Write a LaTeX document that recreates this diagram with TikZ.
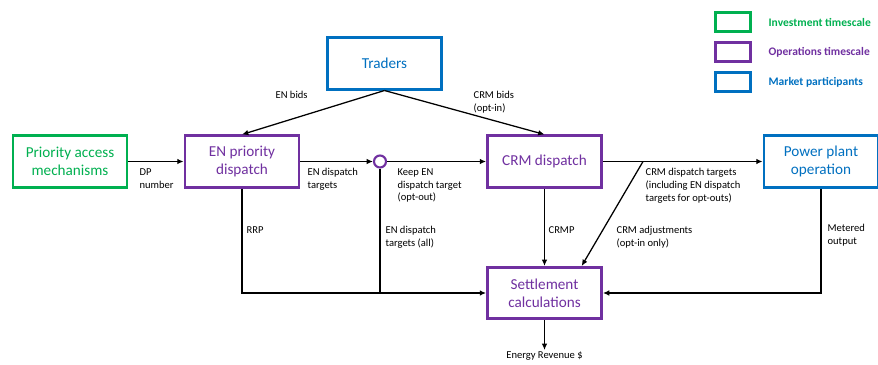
\documentclass[tikz,border=0pt]{standalone}
\usepackage{fontspec}
\setmainfont{Carlito}
\usetikzlibrary{arrows.meta}
\definecolor{invGreen}{RGB}{0,176,80}
\definecolor{opsPurple}{RGB}{112,48,160}
\definecolor{mktBlue}{RGB}{0,112,192}

\begin{document}
\begin{tikzpicture}
[-,line width=0.9pt,x=0.025cm,y=-0.025cm,%
  lineDecorate/.style={-{Latex[length=4.5pt,width=4pt]},line width=0.9pt},%
  boxDecorate/.style={draw=#1,text=#1,line width=2pt,fill=white,minimum width=2.85cm,minimum height=1.28cm,align=center,font=\fontsize{10.8}{12.8}\selectfont},%
  legendDecorate/.style={draw=#1,line width=2pt,minimum width=0.88cm,minimum height=0.46cm,inner sep=0pt},%
  labelDecorate/.style={anchor=north west,align=left,inner sep=0pt,font=\fontsize{7.5}{9}\selectfont}]
\useasboundingbox (0,0) rectangle (878,365);
%% boxes
\node[boxDecorate=invGreen] (pam) at (70,161.5) {Priority access\\mechanisms};
\node[boxDecorate=opsPurple] (enpd) at (242,161.5) {EN priority\\dispatch};
\node[boxDecorate=mktBlue] (trd) at (384.5,63.5) {Traders};
\node[boxDecorate=opsPurple] (crm) at (544.5,161.5) {CRM dispatch};
\node[boxDecorate=mktBlue] (ppo) at (821,161.5) {Power plant\\operation};
\node[boxDecorate=opsPurple] (settle) at (544.5,293) {Settlement\\calculations};
\node[circle,draw=opsPurple,line width=1.5pt,fill=white,minimum size=0.3cm,inner sep=0pt] (opt) at (380,161.5) {};
\node[anchor=north,inner sep=1pt,font=\fontsize{7.5}{9}\selectfont] (rev) at (544.5,350) {Energy Revenue \$};
%% legend
\foreach \boxname/\y/\colour/\text in {
  legInv/22/invGreen/Investment timescale,
  legOps/52/opsPurple/Operations timescale,
  legMkt/82/mktBlue/Market participants}
{
  \node[legendDecorate=\colour] (\boxname) at (733,\y) {};
  \node[anchor=west,inner sep=0pt,text=\colour,font=\fontsize{8.2}{9}\selectfont\bfseries] at (768,\y) {\text};
}
%% connector labels
\node[labelDecorate] (lEnBids) at (275,91) {EN bids};
\node[labelDecorate] (lCrmBids) at (473,91) {CRM bids\\(opt-in)};
\node[labelDecorate] (lDp) at (139,168) {DP\\number};
\node[labelDecorate] (lEnTgt) at (307,168) {EN dispatch\\targets};
\node[labelDecorate] (lKeep) at (397,168) {Keep EN\\dispatch target\\(opt-out)};
\node[labelDecorate] (lRrp) at (246,226) {RRP};
\node[labelDecorate] (lEnAll) at (385,226) {EN dispatch\\targets (all)};
\node[labelDecorate] (lCrmp) at (548,226) {CRMP};
\node[labelDecorate] (lAdj) at (616,226) {CRM adjustments\\(opt-in only)};
\node[labelDecorate] (lCrmTgt) at (645,168) {CRM dispatch targets\\(including EN dispatch\\targets for opt-outs)};
\node[labelDecorate] (lMet) at (827,224) {Metered\\output};
%% connect boxes
\coordinate (brk) at (643,161.5);
\draw[lineDecorate] (pam) -- (enpd);
\draw[lineDecorate] (enpd) -- (opt);
\draw[lineDecorate] (opt) -- (crm);
\draw[lineDecorate] (crm) -- (ppo);
\draw[lineDecorate] (trd.south) -- (enpd.north);
\draw[lineDecorate] (trd.south) -- (crm.north);
\draw[lineDecorate] (enpd) |- (settle);
\draw (opt) -- (opt |- settle);
\draw[lineDecorate] (crm) -- (settle);
\draw[lineDecorate] (brk) -- (settle.36);
\draw[lineDecorate] (ppo) |- (settle);
\draw[lineDecorate] (settle) -- (rev);
\end{tikzpicture}
\end{document}
